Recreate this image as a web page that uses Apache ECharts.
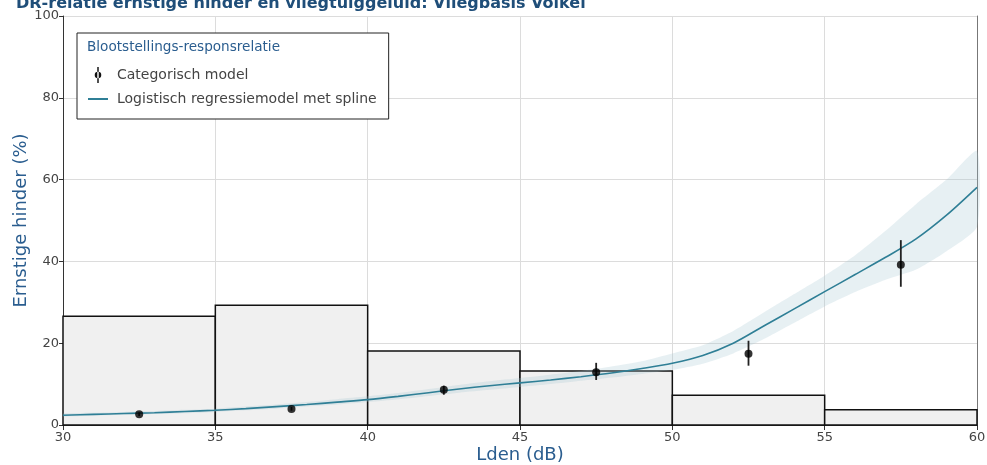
<!DOCTYPE html>
<html>
<head>
<meta charset="utf-8">
<script src="https://cdn.jsdelivr.net/npm/echarts@6/dist/echarts.min.js"></script>
<style>html,body{margin:0;padding:0;background:#fff}#c{width:987px;height:465px}</style>
</head>
<body>
<div id="c"></div>
<script>
// Histogram bins (Lden band start, end, % of respondents)
const binStart = [30, 35, 40, 45, 50, 55];
const binEnd   = [35, 40, 45, 50, 55, 60];
const binValue = [26.6, 29.3, 18.1, 13.2, 7.3, 3.7];

// Categorical model
const catX     = [32.5, 37.5, 42.5, 47.5, 52.5, 57.5];
const catY     = [2.6, 3.9, 8.6, 12.9, 17.4, 39.2];
const catLow   = [2.2, 3.5, 7.4, 11.0, 14.5, 33.8];
const catHigh  = [3.1, 4.4, 9.6, 15.2, 20.6, 45.2];

// Logistic regression with spline
const splineX    = [30,31,32,33,34,35,36,37,38,39,40,41,42,43,44,45,46,47,48,49,50,51,52,53,54,55,56,57,58,59,60];
const splineY    = [2.4,2.6,2.8,3.0,3.3,3.6,4.0,4.5,5.0,5.6,6.2,7.0,7.9,8.8,9.6,10.3,11.0,11.8,12.7,13.8,15.1,17.0,20.0,24.2,28.4,32.6,36.8,41.0,45.5,51.3,58.1];
const splineLow  = [2.1,2.3,2.5,2.7,2.9,3.2,3.6,4.0,4.5,5.0,5.6,6.3,7.1,7.9,8.6,9.3,10.0,10.8,11.6,12.5,13.5,15.0,17.5,21.0,25.0,29.0,32.5,35.5,38.0,42.5,48.5];
const splineHigh = [2.8,3.0,3.2,3.4,3.7,4.0,4.5,5.0,5.6,6.3,7.0,7.8,8.8,9.8,10.7,11.5,12.3,13.2,14.3,15.6,17.5,19.5,23.0,27.5,32.0,36.5,41.5,47.5,54.0,60.0,67.0];

const xTicks = [30, 35, 40, 45, 50, 55, 60];
const yTicks = [0, 20, 40, 60, 80, 100];

const blue = '#2a5d8f';
const lineColor = '#2f7f96';

const chart = echarts.init(document.getElementById('c'), null, {renderer: 'canvas'});

const binData = binStart.map((s, i) => [s, binEnd[i], binValue[i]]);
const errData = catX.map((x, i) => [x, catLow[i], catHigh[i]]);
const catData = catX.map((x, i) => [x, catY[i]]);
const lineData = splineX.map((x, i) => [x, splineY[i]]);
const bandData = splineX.map((x, i) => [x, splineLow[i], splineHigh[i]]);

const errIcon = 'path://M9,0L11,0L11,22L9,22Z M5.5,11a4.5,4.5 0 1,0 9,0a4.5,4.5 0 1,0 -9,0Z';
const lineIcon = 'path://M0,9L20,9L20,11L0,11Z';

chart.setOption({
  animation: false,
  title: {
    text: 'DR-relatie ernstige hinder en vliegtuiggeluid: Vliegbasis Volkel',
    left: 11, top: -9,
    textStyle: {fontFamily: 'DejaVu Sans', fontWeight: 'bold', fontSize: 16, color: '#1f4e79'}
  },
  grid: {left: 63, right: 10, top: 16, bottom: 40, show: false, containLabel: false, outerBoundsMode: 'none'},
  legend: {
    left: 77, top: 33, orient: 'vertical',
    padding: [34, 12, 13, 11],
    itemWidth: 20, itemHeight: 16, itemGap: 9,
    backgroundColor: '#fff', borderColor: '#222', borderWidth: 1,
    textStyle: {fontFamily: 'DejaVu Sans', fontSize: 14, color: '#444', padding: [0, 0, 0, 4]},
    data: [
      {name: 'Categorisch model', icon: errIcon, itemStyle: {color: '#111'}},
      {name: 'Logistisch regressiemodel met spline', icon: lineIcon, itemStyle: {color: lineColor}}
    ]
  },
  graphic: [{
    type: 'text', left: 87, top: 40, z: 100,
    style: {text: 'Blootstellings-responsrelatie', fill: blue, font: '13.6px "DejaVu Sans"'}
  }],
  xAxis: {
    type: 'value', min: xTicks[0], max: xTicks[xTicks.length - 1], interval: 5,
    name: 'Lden (dB)', nameLocation: 'middle', nameGap: 21, nameMoveOverlap: false,
    nameTextStyle: {fontFamily: 'DejaVu Sans', fontSize: 18, color: blue},
    axisLine: {show: true, lineStyle: {color: '#333', width: 1}},
    axisTick: {show: true, length: 5, lineStyle: {color: '#333'}},
    axisLabel: {fontFamily: 'DejaVu Sans', fontSize: 13, color: '#444', margin: 6},
    splitLine: {show: true, lineStyle: {color: '#dcdcdc'}}
  },
  yAxis: [{
    type: 'value', min: yTicks[0], max: yTicks[yTicks.length - 1], interval: 20,
    name: 'Ernstige hinder (%)', nameLocation: 'middle', nameGap: 33, nameMoveOverlap: false,
    nameTextStyle: {fontFamily: 'DejaVu Sans', fontSize: 18, color: blue},
    axisLine: {show: true, lineStyle: {color: '#333', width: 1}},
    axisTick: {show: true, length: 4, lineStyle: {color: '#333'}},
    axisLabel: {fontFamily: 'DejaVu Sans', fontSize: 13, color: '#444', margin: 4},
    splitLine: {show: true, lineStyle: {color: '#dcdcdc'}}
  }, {
    type: 'value', min: 0, max: 100, position: 'right',
    axisLine: {show: true, lineStyle: {color: '#777'}},
    axisTick: {show: false}, axisLabel: {show: false}, splitLine: {show: false}
  }],
  series: [
    {
      type: 'custom', name: 'bins', silent: true, z: 1,
      data: binData,
      encode: {x: [0, 1], y: 2},
      renderItem: function (params, api) {
        const p0 = api.coord([api.value(0), api.value(2)]);
        const p1 = api.coord([api.value(1), 0]);
        return {
          type: 'rect',
          shape: {x: p0[0], y: p0[1], width: p1[0] - p0[0], height: p1[1] - p0[1]},
          style: {fill: '#f0f0f0', stroke: '#111', lineWidth: 1.5}
        };
      }
    },
    {
      type: 'custom', name: 'band', silent: true, z: 2,
      data: bandData,
      encode: {x: 0, y: [1, 2]},
      renderItem: function (params, api) {
        if (params.dataIndex !== 0) return null;
        const pts = [];
        for (let i = 0; i < splineX.length; i++) pts.push(api.coord([splineX[i], splineHigh[i]]));
        for (let i = splineX.length - 1; i >= 0; i--) pts.push(api.coord([splineX[i], splineLow[i]]));
        return {type: 'polygon', shape: {points: pts, smooth: 0.2}, style: {fill: 'rgba(160,195,208,0.25)'}};
      }
    },
    {
      type: 'line', name: 'Logistisch regressiemodel met spline', z: 3,
      data: lineData, showSymbol: false, smooth: 0.3,
      lineStyle: {color: lineColor, width: 1.6}, itemStyle: {color: lineColor}
    },
    {
      type: 'custom', name: 'Categorisch model', z: 4,
      data: errData,
      encode: {x: 0, y: [1, 2]},
      itemStyle: {color: '#111'},
      renderItem: function (params, api) {
        const a = api.coord([api.value(0), api.value(1)]);
        const b = api.coord([api.value(0), api.value(2)]);
        return {type: 'line', shape: {x1: a[0], y1: a[1], x2: b[0], y2: b[1]}, style: {stroke: '#222', lineWidth: 1.8}};
      }
    },
    {
      type: 'scatter', name: 'Categorisch model', z: 5,
      data: catData, symbol: 'circle', symbolSize: 8,
      itemStyle: {color: '#000'}
    }
  ]
});
</script>
</body>
</html>
